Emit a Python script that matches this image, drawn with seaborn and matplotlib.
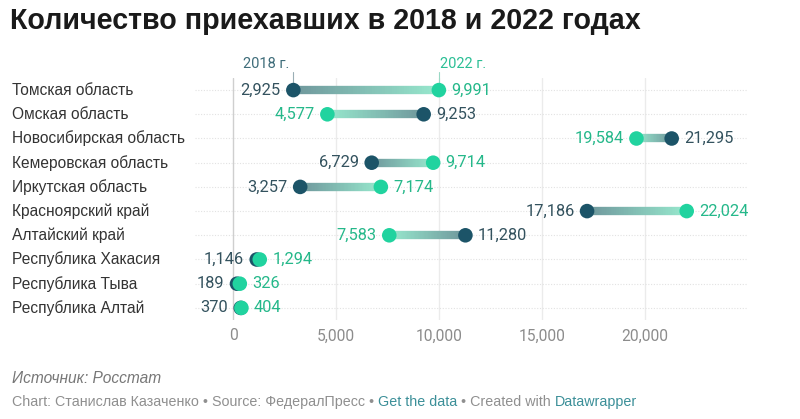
import numpy as np
import pandas as pd
import matplotlib
matplotlib.use("Agg")
import matplotlib.pyplot as plt
import seaborn as sns
from matplotlib.collections import LineCollection
from matplotlib.colors import to_rgb
import matplotlib.transforms as mtransforms

regions = ["Томская область", "Омская область", "Новосибирская область",
           "Кемеровская область", "Иркутская область", "Красноярский край",
           "Алтайский край", "Республика Хакасия", "Республика Тыва",
           "Республика Алтай"]
v2018 = [2925, 9253, 21295, 6729, 3257, 17186, 11280, 1146, 189, 370]
v2022 = [9991, 4577, 19584, 9714, 7174, 22024, 7583, 1294, 326, 404]
xticks = [0, 5000, 10000, 15000, 20000]
xticklabels = ["0", "5,000", "10,000", "15,000", "20,000"]
year_labels = ["2018 г.", "2022 г."]

sns.set_theme(style="white")
plt.rcParams['font.family'] = ['Roboto', 'DejaVu Sans']
ARIAL = ['Liberation Sans', 'DejaVu Sans']

C18 = "#1c5468"
C22 = "#21d39f"
T18 = "#33525e"
T22 = "#25b88a"

W, H = 800, 419
fig = plt.figure(figsize=(W / 100, H / 100), dpi=100)
fig.patch.set_facecolor("white")
ax = fig.add_axes([195 / W, 1 - 320 / H, 553 / W, 242 / H])
ax.set_facecolor("white")

n = len(regions)
ypos = np.arange(n)
df18 = pd.DataFrame({"region": regions, "value": v2018, "y": ypos})
df22 = pd.DataFrame({"region": regions, "value": v2022, "y": ypos})

# grid
for t in xticks:
    ax.axvline(t, color="#cfcfcf" if t == 0 else "#ebebeb", lw=1, zorder=0)
ax.hlines(ypos, -1850, 25000, colors="#e2e2e2", linestyles=(0, (1, 1.5)), lw=0.8, zorder=0)

# gradient connectors
ca = np.array(to_rgb("#6f979c"))
cb = np.array(to_rgb("#97e8cd"))
segs, cols = [], []
for i in range(n):
    xs = np.linspace(v2018[i], v2022[i], 60)
    for k in range(len(xs) - 1):
        segs.append([(xs[k], i), (xs[k + 1], i)])
        f = k / (len(xs) - 2)
        cols.append(tuple(ca * (1 - f) + cb * f))
lc = LineCollection(segs, colors=cols, linewidths=6, capstyle="butt", zorder=1)
ax.add_collection(lc)

sns.scatterplot(data=df18, x="value", y="y", ax=ax, color=C18, s=110,
                edgecolor="none", zorder=3, legend=False)
sns.scatterplot(data=df22, x="value", y="y", ax=ax, color=C22, s=110,
                edgecolor="none", zorder=4, legend=False)

ax.set_xlim(-1850, 25000)
ax.set_ylim(n - 0.5, -0.5)
ax.set_xticks(xticks)
ax.set_xticklabels(xticklabels)
ax.set_yticks([])
ax.set_xlabel("")
ax.set_ylabel("")
ax.tick_params(axis="x", length=0, pad=6, labelsize=11.2, labelcolor="#8c8c8c")
for s in ax.spines.values():
    s.set_visible(False)

# value labels
for i in range(n):
    a, b = v2018[i], v2022[i]
    if a <= b:
        left, lc_, right, rc_ = a, T18, b, T22
    else:
        left, lc_, right, rc_ = b, T22, a, T18
    ax.annotate(f"{left:,}", (left, i), xytext=(-9, 0), textcoords="offset points",
                ha="right", va="center", fontsize=11.8, color=lc_, zorder=5)
    ax.annotate(f"{right:,}", (right, i), xytext=(9, 0), textcoords="offset points",
                ha="left", va="center", fontsize=11.8, color=rc_, zorder=5)

# category labels
trans = mtransforms.blended_transform_factory(fig.transFigure, ax.transData)
for i, r in enumerate(regions):
    ax.text(12 / W, i, r, transform=trans, ha="left", va="center",
            fontsize=11.2, color="#333333", family=ARIAL)

# year labels with small ticks
ax.plot([v2018[0], v2018[0]], [-0.29, -0.74], color="#9aaeb5", lw=0.8, clip_on=False, zorder=2)
ax.plot([v2022[0], v2022[0]], [-0.29, -0.74], color="#9ad8c4", lw=0.8, clip_on=False, zorder=2)
ax.annotate(year_labels[0], (v2018[0], -0.74), xytext=(-3, 1), textcoords="offset points",
            ha="right", va="bottom", fontsize=10.5, color="#3f6d7a", annotation_clip=False)
ax.annotate(year_labels[1], (v2022[0], -0.74), xytext=(1, 1), textcoords="offset points",
            ha="left", va="bottom", fontsize=10.5, color="#2bbf95", annotation_clip=False)

# title
fig.text(10 / W, 1 - 21 / H, "Количество приехавших в 2018 и 2022 годах",
         fontsize=20.6, fontweight="bold", color="#1a1a1a", ha="left", va="center",
         family=ARIAL)

# footer
fig.text(12 / W, 1 - 378 / H, "Источник: Росстат", fontsize=11.2, style="italic",
         color="#777777", ha="left", va="center", family=ARIAL)
parts = [("Chart: Станислав Казаченко • Source: ФедералПресс • ", "#8f8f8f"),
         ("Get the data", "#3b8f98"),
         (" • Created with ", "#8f8f8f"),
         ("Datawrapper", "#3b8f98")]
fig.canvas.draw()
renderer = fig.canvas.get_renderer()
x_px = 12
y_fig = 1 - 402 / H
for txt, col in parts:
    t = fig.text(x_px / W, y_fig, txt, fontsize=10.3, color=col, ha="left", va="center",
                 family=ARIAL)
    x_px = t.get_window_extent(renderer).x1

fig.savefig("out.png", dpi=100, facecolor="white")
